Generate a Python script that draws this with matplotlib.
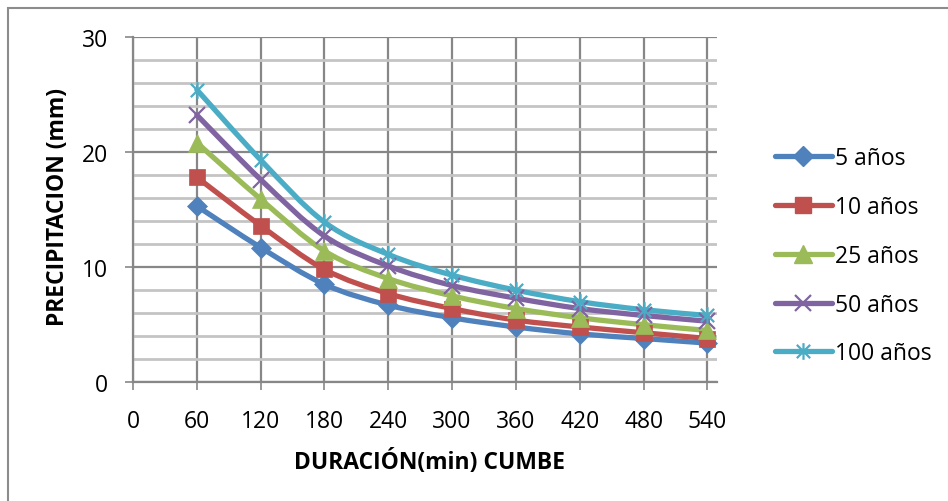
import matplotlib
matplotlib.use("Agg")
import matplotlib.pyplot as plt
import numpy as np
from matplotlib.path import Path
from matplotlib.patches import PathPatch, Rectangle
from matplotlib.lines import Line2D

plt.rcParams['font.family'] = ['Open Sans', 'DejaVu Sans']

# data
duracion = [60, 120, 180, 240, 300, 360, 420, 480, 540]
series_names = ["5 años", "10 años", "25 años", "50 años", "100 años"]
p_5 = [15.3, 11.7, 8.5, 6.7, 5.6, 4.8, 4.2, 3.8, 3.4]
p_10 = [17.8, 13.6, 9.8, 7.7, 6.4, 5.4, 4.8, 4.3, 3.8]
p_25 = [20.8, 15.9, 11.4, 9.0, 7.5, 6.4, 5.6, 5.0, 4.5]
p_50 = [23.2, 17.6, 12.7, 10.1, 8.4, 7.3, 6.4, 5.8, 5.3]
p_100 = [25.4, 19.3, 13.9, 11.1, 9.3, 8.0, 7.0, 6.3, 5.8]
x_ticks = [0, 60, 120, 180, 240, 300, 360, 420, 480, 540]

colors = ["#4F81BD", "#C0504D", "#9BBB59", "#8064A2", "#4BACC6"]

# excel style "asterisk" marker: x plus a vertical bar
star_path = Path(
    [(-1, -1), (1, 1), (-1, 1), (1, -1), (0, -1.25), (0, 1.25)],
    [Path.MOVETO, Path.LINETO, Path.MOVETO, Path.LINETO, Path.MOVETO, Path.LINETO],
)
markers = [("D", 10.5), ("s", 12), ("^", 12.5), ("x", 11), (star_path, 12)]


def smooth_path(xs, ys):
    # bezier segments through the points (excel smoothed line)
    pts = np.column_stack([xs, ys]).astype(float)
    ext = np.vstack([pts[0], pts, pts[-1]])
    verts = [tuple(pts[0])]
    codes = [Path.MOVETO]
    for i in range(len(pts) - 1):
        p0, p1, p2, p3 = ext[i], ext[i + 1], ext[i + 2], ext[i + 3]
        c1 = p1 + (p2 - p0) / 6.0
        c2 = p2 - (p3 - p1) / 6.0
        verts += [tuple(c1), tuple(c2), tuple(p2)]
        codes += [Path.CURVE4] * 3
    return Path(verts, codes)


fig = plt.figure(figsize=(9.48, 5.02), dpi=100)
ax = fig.add_axes([0.1403, 0.2365, 0.6160, 0.6884])

ax.set_xlim(0, 549)
ax.set_ylim(0, 30)
ax.set_xticks(x_ticks)
ax.set_yticks([0, 10, 20, 30])
ax.set_yticks(np.arange(2, 30, 2), minor=True)

ax.grid(which="major", axis="both", color="#878787", lw=1.6)
ax.grid(which="minor", axis="y", color="#C4C4C4", lw=2.0)
ax.set_axisbelow(True)

for side in ["top", "right"]:
    ax.spines[side].set_visible(False)
for side in ["left", "bottom"]:
    ax.spines[side].set_color("#878787")
    ax.spines[side].set_linewidth(1.6)

ax.tick_params(axis="both", which="major", length=6, width=1.2, color="#878787",
               labelsize=16.5)
ax.tick_params(axis="y", which="major", pad=12)
ax.tick_params(axis="x", which="major", pad=13)
ax.tick_params(axis="y", which="minor", length=0)

all_series = [p_5, p_10, p_25, p_50, p_100]
handles = []
for vals, col, (mk, ms), name in zip(all_series, colors, markers, series_names):
    patch = PathPatch(smooth_path(duracion, vals), fill=False, edgecolor=col,
                      lw=3.8, capstyle="round", joinstyle="round", zorder=3)
    ax.add_patch(patch)
    if mk in ("x",) or isinstance(mk, Path):
        ax.plot(duracion, vals, linestyle="none", marker=mk, ms=ms,
                markeredgecolor=col, markeredgewidth=1.6, color=col, zorder=4)
        h = Line2D([], [], color=col, lw=3.8, marker=mk, ms=ms,
                   markeredgecolor=col, markeredgewidth=1.6, solid_capstyle="round")
    else:
        ax.plot(duracion, vals, linestyle="none", marker=mk, ms=ms,
                markerfacecolor=col, markeredgecolor=col, markeredgewidth=0.5, zorder=4)
        h = Line2D([], [], color=col, lw=3.8, marker=mk, ms=ms,
                   markerfacecolor=col, markeredgecolor=col, solid_capstyle="round")
    handles.append(h)

# axis titles placed in figure pixels
fig.text(58 / 948, 1 - 207 / 502, "PRECIPITACION (mm)", rotation=90,
         ha="center", va="center", fontsize=16.5, fontweight="bold")
fig.text(429 / 948, 1 - 463 / 502, "DURACIÓN(min) CUMBE",
         ha="center", va="center", fontsize=16.5, fontweight="bold")

fig.legend(handles, series_names, loc="center left",
           bbox_to_anchor=(775 / 948 - 0.01, 1 - 257 / 502), frameon=False,
           fontsize=16.5, handlelength=2.5, handletextpad=0.15,
           labelspacing=1.08, borderaxespad=0)

# chart area border (cropped on the right and bottom)
fig.patches.append(Rectangle((8 / 948, -0.1), 1.2, 1.1 - 8.5 / 502,
                             transform=fig.transFigure, fill=False,
                             edgecolor="#8C8C8C", lw=1.5))

fig.savefig("out.png", dpi=100)
